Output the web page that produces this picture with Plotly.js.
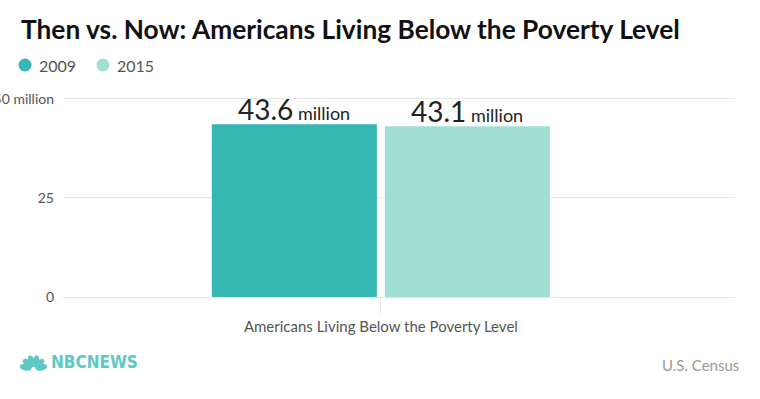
<!DOCTYPE html>
<html><head><meta charset="utf-8">
<script src="https://cdn.plot.ly/plotly-3.0.1.min.js"></script>
<style>html,body{margin:0;padding:0;background:#fff}#chart{width:760px;height:399px}</style>
</head><body><div id="chart"></div>
<script>
const categories = ['Americans Living Below the Poverty Level'];
const seriesNames = ['2009', '2015'];
const values2009 = [43.6];
const values2015 = [43.1];
const yTickVals = [0, 25, 50];
const yTickText = ['0', '25', '50 million'];
const colors = ['#35b7b4', '#a1dfd5'];

function label(v){ return v.toFixed(1) + '<span style="font-size:18px"> million</span>'; }

const FONT = 'Lato, "Open Sans", sans-serif';
const series = [values2009, values2015];
const traces = series.map((vals, i) => ({
  type: 'bar', x: categories, y: vals, name: seriesNames[i],
  marker: {color: colors[i]},
  hoverinfo: 'none', showlegend: false
}));

const H = 206, W = 672, L = 63, T = 91;
function px(x){ return (x - L) / W; }
function py(y){ return (T + H - y) / H; }

const shapes = seriesNames.map((n, i) => ({
  type: 'circle', xref: 'paper', yref: 'paper', xsizemode: 'pixel', ysizemode: 'pixel',
  xanchor: px([25, 103][i]), yanchor: py(65), x0: -6.5, x1: 6.5, y0: -6.5, y1: 6.5,
  fillcolor: colors[i], line: {width: 0}
}));

const barLabels = [];
series.forEach((vals, i) => vals.forEach((v, j) => barLabels.push({
  text: label(v), xref: 'x', yref: 'y', x: categories[j], y: v,
  xshift: (i === 0 ? -86.5 : 86.5), yshift: -4, xanchor: 'center', yanchor: 'bottom',
  showarrow: false, font: {family: FONT, size: 28, color: '#222'}
})));

const annotations = [
  {text: '<b>Then vs. Now: Americans Living Below the Poverty Level</b>', xref: 'paper', yref: 'paper',
   x: px(19), y: py(29), xanchor: 'left', yanchor: 'middle', showarrow: false,
   font: {family: FONT, size: 26.3, color: '#111'}},
  ...seriesNames.map((n, i) => ({text: n, xref: 'paper', yref: 'paper', x: px([37, 115][i]), y: py(65),
   xanchor: 'left', yanchor: 'middle', showarrow: false, font: {family: FONT, size: 16, color: '#555'}})),
  ...barLabels,
  {text: '<b>NBCNEWS</b>', xref: 'paper', yref: 'paper', x: px(49), y: py(362), xanchor: 'left', yanchor: 'middle',
   showarrow: false, font: {family: '"DejaVu Sans Condensed", "DejaVu Sans", sans-serif', size: 17, color: '#5ec8c3'}},
  {text: 'U.S. Census', xref: 'paper', yref: 'paper', x: px(741), y: py(365), xanchor: 'right', yanchor: 'middle',
   showarrow: false, font: {family: FONT, size: 15, color: '#999'}}
];

// peacock feathers (radiating teardrops)
const feathers = [-78, -47, -16, 16, 47, 78];
feathers.forEach(a => {
  const r = a * Math.PI / 180;
  const pts = [];
  for (let k = 0; k <= 24; k++) {
    const t = k / 24 * 2 * Math.PI;
    const u = 8 + 6 * Math.cos(t), w = 3.2 * Math.sin(t);
    const xx = u * Math.sin(r) + w * Math.cos(r);
    const yy = u * Math.cos(r) - w * Math.sin(r);
    pts.push((k ? 'L' : 'M') + xx.toFixed(2) + ',' + yy.toFixed(2));
  }
  shapes.push({type: 'path', xref: 'paper', yref: 'paper', xsizemode: 'pixel', ysizemode: 'pixel',
    xanchor: px(33.5), yanchor: py(369), path: pts.join(' ') + ' Z', fillcolor: '#5ec8c3', line: {width: 0}});
});

const layout = {
  width: 760, height: 399,
  margin: {l: L, r: 760 - L - W, t: T, b: 399 - T - H},
  paper_bgcolor: '#fff', plot_bgcolor: '#fff',
  barmode: 'group', bargap: 0.485, bargroupgap: 0.046,
  font: {family: FONT, color: '#555'},
  xaxis: {type: 'category', range: [-0.473, 0.527], showgrid: false, showline: false, zeroline: false,
    ticks: 'outside', ticklen: 16, tickcolor: '#e6e6e6', tickwidth: 1,
    tickfont: {family: FONT, size: 15, color: '#555'}},
  yaxis: {range: [0, 52], tickvals: yTickVals, ticktext: yTickText, showgrid: true, gridcolor: '#e8e8e8',
    zeroline: true, zerolinecolor: '#e6e6e6', showline: false, ticks: '', ticklabelstandoff: 8,
    tickfont: {family: FONT, size: 14, color: '#555'}},
  shapes: shapes, annotations: annotations, showlegend: false
};

Plotly.newPlot('chart', traces, layout, {displayModeBar: false, staticPlot: true});
</script></body></html>
